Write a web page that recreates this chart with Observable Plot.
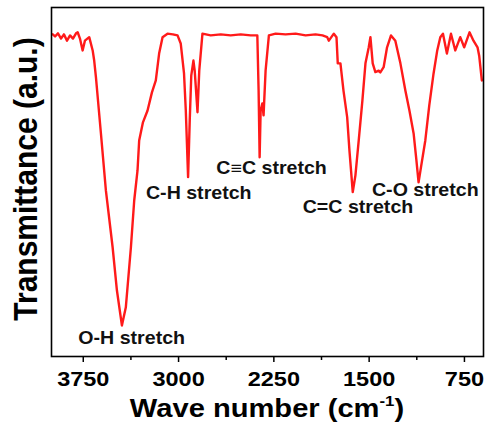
<!DOCTYPE html>
<html>
<head>
<meta charset="utf-8">
<script src="https://cdn.jsdelivr.net/npm/d3@7"></script>
<script src="https://cdn.jsdelivr.net/npm/@observablehq/plot@0.6"></script>
<style>
  html, body { margin: 0; padding: 0; background: #fff; }
  #chart { width: 491px; height: 433px; }
</style>
</head>
<body>
<div id="chart"></div>
<script>
// FTIR spectrum
const wavenumber = [3990,3972,3949,3925,3902,3878,3854,3831,3807,3794,3776,3755,3737,3703,3676,3664,3650,3611,3572,3519,3485,3446,3415,3375,3349,3323,3310,3281,3244,3210,3179,3153,3126,3087,3045,3008,2983,2957,2943,2925,2912,2900,2883,2873,2851,2837,2812,2747,2668,2590,2511,2432,2380,2370,2362,2354,2341,2331,2315,2289,2236,2158,2079,2000,1922,1867,1830,1817,1778,1757,1747,1726,1702,1673,1655,1629,1608,1582,1553,1529,1503,1490,1472,1451,1425,1412,1386,1359,1328,1294,1254,1215,1183,1150,1128,1111,1090,1058,1027,993,964,940,919,888,856,822,783,752,710,679,647,634,613];
const transmittance = [92.3,91.7,92.6,91.1,92.3,90.5,92.0,91.1,92.6,92.9,91.1,87.7,90.5,91.5,87.7,84.8,79.9,63.9,47.6,31.3,18.9,8.9,14.1,31.3,44.7,53.3,61.9,67.0,70.5,75.6,79.1,86.8,91.5,92.5,92.3,92.0,89.7,81.1,70.5,51.4,67.6,80.5,84.8,81.9,70.0,81.9,92.5,92.0,92.3,92.0,92.3,92.0,92.0,76.2,57.1,70.5,72.5,69.1,81.9,92.0,92.5,92.3,92.5,92.0,92.3,92.0,91.5,90.5,92.5,91.5,84.0,84.0,76.2,68.6,59.0,47.1,51.9,61.9,73.4,84.0,88.6,91.5,84.0,81.5,81.9,81.4,82.9,88.6,92.0,90.5,84.0,76.2,70.5,63.9,56.2,49.9,54.7,61.9,71.9,81.1,87.7,91.5,92.5,86.8,92.5,87.7,91.5,88.6,92.9,90.5,88.6,86.2,79.1];

const peakLabels = ["O-H stretch", "C-H stretch", "C\u2261C stretch", "C=C stretch", "C-O stretch"];
const peakLabelWn = [3369, 2841, 2268, 1588, 1058];
const peakLabelT = [5.2, 46.6, 54.0, 42.6, 47.7];

const majorTicks = [3750, 3000, 2250, 1500, 750];
const minorTicks = [3375, 2625, 1875, 1125];

const xTitle = "Wave number (cm";
const xTitleSup = "-1";
const yTitle = "Transmittance (a.u.)";

const spectrum = wavenumber.map((w, i) => ({w, t: transmittance[i]}));
const labels = peakLabels.map((s, i) => ({s, w: peakLabelWn[i], t: peakLabelT[i]}));

const FONT = "'Liberation Sans', Arial, Helvetica, sans-serif";

const plot = Plot.plot({
  width: 491,
  height: 433,
  marginLeft: 51,
  marginRight: 8,
  marginTop: 7,
  marginBottom: 77,
  style: {fontFamily: FONT, fontWeight: "bold", color: "#000", background: "#fff"},
  x: {domain: [4000, 600]},
  y: {domain: [0, 100], axis: null},
  marks: [
    Plot.line(spectrum, {x: "w", y: "t", stroke: "#ff1a1a", strokeWidth: 2.4}),
    Plot.text(labels, {x: "w", y: "t", text: "s", fontSize: 17.5, fontWeight: "bold", fill: "#111", textAnchor: "middle", lineAnchor: "middle"}),
    Plot.frame({stroke: "#000", strokeWidth: 1.6}),
    Plot.axisX({ticks: majorTicks, tickSize: 6, tickPadding: 9, strokeWidth: 1.5, fontSize: 21, label: null, tickFormat: d => String(d)}),
    Plot.axisX({ticks: minorTicks, tickSize: 4, strokeWidth: 1.5, label: null, tickFormat: () => ""})
  ]
});

document.getElementById("chart").appendChild(plot);

const svg = d3.select(plot);
// horizontal glyph stretch like the reference
svg.selectAll("text").each(function() {
  const len = this.getComputedTextLength();
  if (len > 0) {
    this.setAttribute("textLength", (len * 1.12).toFixed(1));
    this.setAttribute("lengthAdjust", "spacingAndGlyphs");
  }
});

// x axis title with superscript
const xt = svg.append("text")
  .attr("transform", "translate(267,417) scale(1.12,1)")
  .attr("text-anchor", "middle")
  .attr("font-family", FONT)
  .attr("font-weight", "bold")
  .attr("font-size", 26)
  .attr("fill", "#000");
xt.append("tspan").text(xTitle);
xt.append("tspan").attr("font-size", 15).attr("dy", -11).text(xTitleSup);
xt.append("tspan").attr("dy", 11).text(")");

// y axis title
svg.append("text")
  .attr("transform", "translate(37,179) scale(1.12,1) rotate(-90)")
  .attr("text-anchor", "middle")
  .attr("font-family", FONT)
  .attr("font-weight", "bold")
  .attr("font-size", 30)
  .attr("fill", "#000")
  .text(yTitle);
</script>
</body>
</html>
